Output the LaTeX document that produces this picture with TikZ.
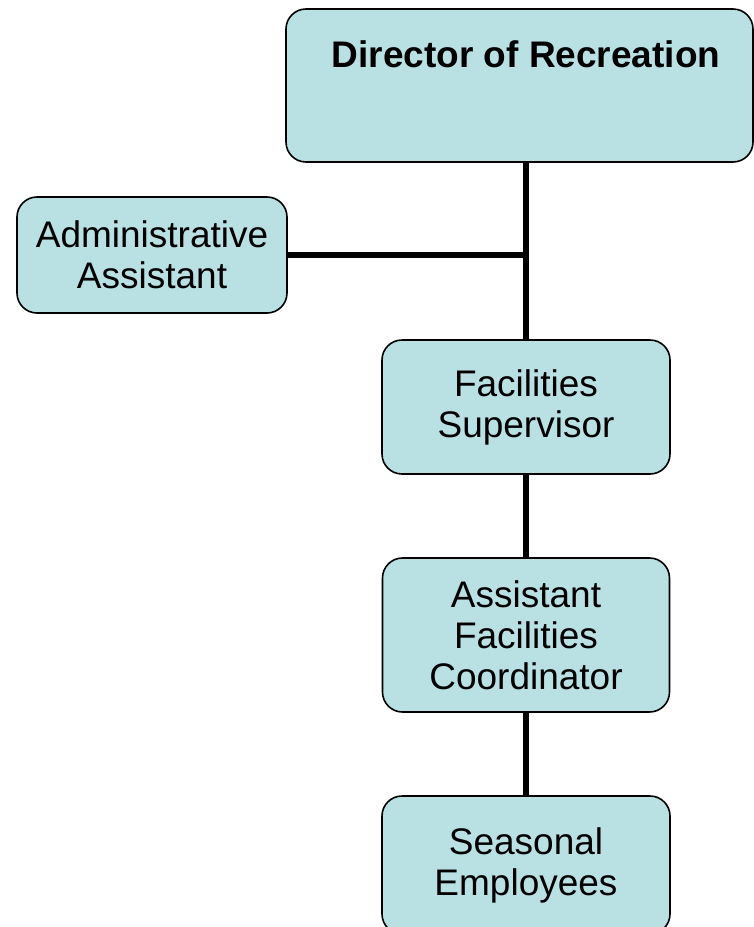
\documentclass[tikz,border=0pt]{standalone}
\usepackage{fontspec}
\setmainfont{Liberation Sans}
\definecolor{boxfill}{RGB}{185,224,227}
\begin{document}
\begin{tikzpicture}[x=1pt,y=-1pt,
  orgbox/.style={draw=black, line width=1.6pt, fill=boxfill, rounded corners=20pt,
    inner sep=0pt, align=center, font=\fontsize{37}{41}\selectfont},
  link/.style={line width=5.5pt}]
  \useasboundingbox (0,0) rectangle (754,927);
  % top box: title sits near the top edge, a little right of centre
  \node[orgbox, minimum width=467pt, minimum height=153pt, text height=58pt, text depth=95pt]
    (dir) at (519.5,85.5) {\hspace*{13pt}\textbf{Director of Recreation}};
  \node[orgbox, minimum width=270pt, minimum height=116pt]
    (admin) at (152,255) {Administrative\\Assistant};
  \node[orgbox, minimum width=288pt, minimum height=134pt]
    (fac) at (526,407) {Facilities\\Supervisor};
  \node[orgbox, minimum width=287pt, minimum height=154pt]
    (afc) at (526,635) {Assistant\\Facilities\\Coordinator};
  \node[orgbox, minimum width=288pt, minimum height=138pt]
    (seas) at (526,865) {Seasonal\\Employees};
  % connectors
  \coordinate (junc) at (admin.east -| fac.north);
  \draw[link] (dir.south -| fac.north) -- (fac.north);
  \draw[link] (admin.east) -- (junc);
  \draw[link] (fac.south) -- (afc.north);
  \draw[link] (afc.south) -- (seas.north);
\end{tikzpicture}
\end{document}
